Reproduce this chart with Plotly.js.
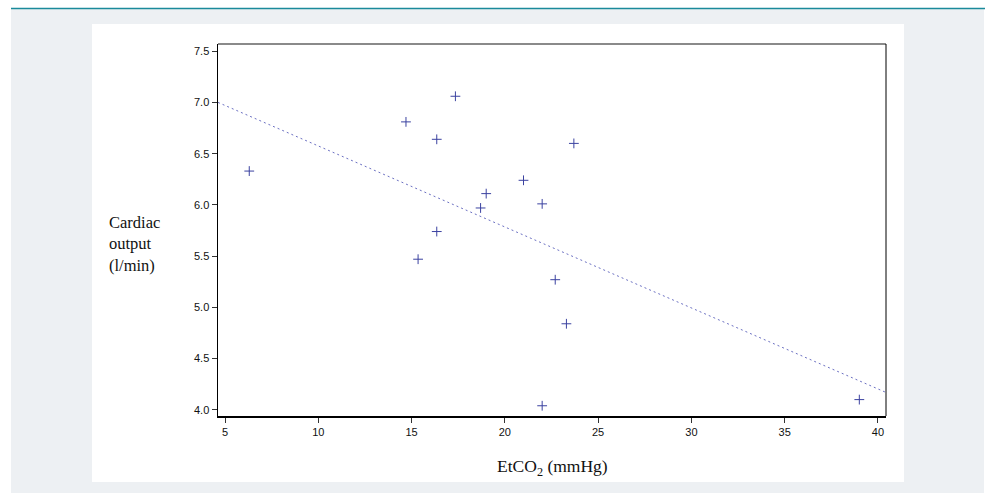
<!DOCTYPE html>
<html><head><meta charset="utf-8">
<script src="https://cdn.plot.ly/plotly-3.0.1.min.js"></script>
<style>html,body{margin:0;padding:0;background:#fff;}#chart{width:990px;height:493px;}</style>
</head><body><div id="chart"></div>
<script>
// Data
const etco2 = [6.3, 14.7, 15.35, 16.35, 16.35, 17.35, 18.7, 19.0, 21.0, 22.0, 22.7, 23.3, 22.0, 23.7, 39.0];
const cardiacOutput = [6.33, 6.81, 5.47, 6.64, 5.74, 7.06, 5.97, 6.11, 6.24, 6.01, 5.27, 4.84, 4.04, 6.60, 4.10];
// Regression line end points
const fitX = [4.625, 40.43];
const fitY = [7.0, 4.17];
const xTicks = [5, 10, 15, 20, 25, 30, 35, 40];
const yTicks = [4.0, 4.5, 5.0, 5.5, 6.0, 6.5, 7.0, 7.5];

const L = 218, R = 886, T = 44, B = 416, W = 990, H = 493;
const px = v => (v - L) / (R - L);
const py = v => (B - v) / (B - T);

const traces = [
  {x: fitX, y: fitY, mode: 'lines', type: 'scatter', hoverinfo: 'skip',
   line: {color: '#6b70c2', width: 1, dash: '2px,3px'}},
  {x: etco2, y: cardiacOutput, mode: 'markers', type: 'scatter',
   marker: {symbol: 'cross-thin', size: 7, line: {color: '#3b42a0', width: 1}, color: '#3b42a0'}}
];

const layout = {
  width: W, height: H,
  margin: {l: L, r: W - R, t: T, b: H - B, pad: 0},
  paper_bgcolor: '#ffffff', plot_bgcolor: '#ffffff',
  showlegend: false,
  xaxis: {range: [4.625, 40.43], tickvals: xTicks, ticktext: xTicks.map(String),
    showgrid: false, zeroline: false, showline: true, linecolor: '#000', linewidth: 1.5,
    ticks: 'outside', ticklen: 5, tickcolor: '#333', tickwidth: 1,
    tickfont: {family: 'Liberation Sans, Arial, sans-serif', size: 11, color: '#111'}},
  yaxis: {range: [3.94, 7.57], tickvals: yTicks, ticktext: yTicks.map(v => v.toFixed(1)),
    showgrid: false, zeroline: false, showline: true, linecolor: '#000', linewidth: 1.5,
    ticks: 'outside', ticklen: 5, tickcolor: '#333', tickwidth: 1,
    tickfont: {family: 'Liberation Sans, Arial, sans-serif', size: 11, color: '#111'}},
  shapes: [
    {type: 'rect', xref: 'paper', yref: 'paper', layer: 'below',
     x0: px(11), x1: px(984), y0: py(493), y1: py(9), fillcolor: '#edf0f3', line: {width: 0}},
    {type: 'rect', xref: 'paper', yref: 'paper', layer: 'below',
     x0: px(92), x1: px(904), y0: py(482), y1: py(24), fillcolor: '#ffffff', line: {width: 0}},
    {type: 'line', xref: 'paper', yref: 'paper', x0: px(11), x1: px(985), y0: py(8.5), y1: py(8.5),
     line: {color: '#1a8a9b', width: 1.5}},
    {type: 'line', xref: 'paper', yref: 'paper', x0: 0, x1: 1, y0: 1, y1: 1,
     line: {color: '#8a8a8a', width: 2}},
    {type: 'line', xref: 'paper', yref: 'paper', x0: 1, x1: 1, y0: 0, y1: 1,
     line: {color: '#000', width: 1}}
  ],
  annotations: [
    {xref: 'paper', yref: 'paper', x: px(107), y: py(244), xanchor: 'left', yanchor: 'middle', align: 'left',
     showarrow: false, text: 'Cardiac<br>output<br>(l/min)',
     font: {family: 'Liberation Serif, Times New Roman, serif', size: 16.5, color: '#111'}},
    {xref: 'paper', yref: 'paper', x: px(552), y: py(467), xanchor: 'center', yanchor: 'middle',
     showarrow: false, text: 'EtCO<sub>2</sub> (mmHg)',
     font: {family: 'Liberation Serif, Times New Roman, serif', size: 17.5, color: '#111'}}
  ]
};

Plotly.newPlot('chart', traces, layout, {displayModeBar: false, staticPlot: true});
</script></body></html>
